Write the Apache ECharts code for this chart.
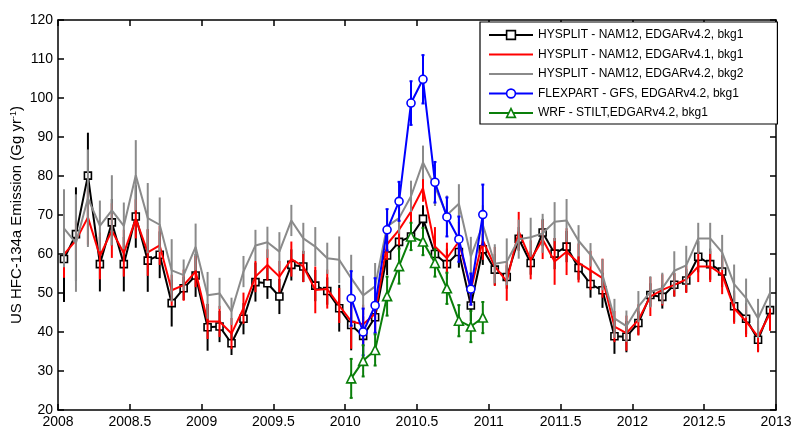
<!DOCTYPE html>
<html>
<head>
<meta charset="utf-8">
<script src="https://cdn.jsdelivr.net/npm/echarts@6/dist/echarts.min.js"></script>
<style>
html,body{margin:0;padding:0;background:#fff;}
#chart{width:791px;height:427px;}
</style>
</head>
<body>
<div id="chart"></div>
<script>
// ---- Data (monthly estimates, Gg/yr) ----
const startYear = 2008;
const flexStartMonth = 24; // January 2010
const xTickLabels = ['2008','2008.5','2009','2009.5','2010','2010.5','2011','2011.5','2012','2012.5','2013'];

const hysplitV42bkg1 = [58.7,65.1,80.1,57.4,68.1,57.4,69.6,58.3,59.8,47.4,51.2,54.5,
  41.2,41.4,37.1,43.4,52.8,52.5,49.1,57.2,56.8,51.9,50.5,46.1,
  41.8,39.0,43.8,59.6,63.1,64.5,69.0,60.0,57.4,60.5,46.8,61.2,
  56.0,54.1,63.9,57.7,65.5,60.1,61.9,56.4,52.3,50.7,38.9,38.8,
  42.3,49.5,49.0,52.1,53.2,59.3,57.4,55.5,46.6,43.4,38.0,45.6];
const hysplitV42bkg1Err = [11,12,11,7,6,7,8,8,6,6,3,5.5,
  6,4,3,4,5,4,4.5,4,4,4,3.5,6,
  6.5,5,4,5,4,3.5,3.5,4,4,4,4,4,
  4,3,3,3,3.5,4,4,3,3.5,4.5,4.5,4,
  3,3,3,3,3,4,4,4,4,4,3,4];

const hysplitV41bkg1 = [59.9,63.5,69.4,59.5,66.0,60.2,69.0,60.4,62.2,50.7,52.0,55.5,
  42.7,42.7,39.6,46.1,54.2,57.2,54.2,58.7,56.8,50.8,51.0,46.8,
  42.7,42.0,44.7,62.5,66.2,70.9,76.9,61.9,58.9,63.2,50.8,63.5,
  56.8,53.0,65.8,58.5,63.7,58.1,60.6,57.7,55.8,53.8,41.4,39.7,
  43.1,49.1,50.8,52.1,53.5,56.8,56.8,54.7,46.1,42.7,38.8,44.8];
const hysplitV41bkg1Err = [6,5,7,6,7,6,5,6,5,4,4,4,
  4.5,4,4,4,4,4,4,4.5,4,6,5,4.5,
  7,5,5,4,4,4,3.5,5,4,5,4,5,
  5,5,5,5,5,6,6,5,5,5,4,4.5,
  4,5,4,3,3.5,4,4,5,4,4,4,4.5];

const hysplitV42bkg2 = [66.6,62.8,74.3,67.2,71.2,67.2,80.2,69.2,67.5,55.8,54.6,61.8,
  49.4,49.9,45.3,55.5,62.2,63.0,60.6,68.6,64.0,61.9,58.9,58.5,
  53.8,49.4,51.7,67.1,69.2,74.8,83.5,77.3,70.0,72.9,59.4,67.5,
  57.5,58.0,63.8,64.3,65.3,68.3,68.6,63.4,59.8,54.7,43.5,41.5,
  46.5,50.3,51.2,55.7,57.1,64.0,64.0,60.4,52.3,48.7,43.5,50.0];
const hysplitV42bkg2Err = [10,12.5,12.5,6.5,9,6,9,9,7,8,4,6,
  6,4,3.5,4,4,4,5,4,4,5,4,6,
  6,5,6,4,4,4,4.3,5,5,5,5,5,
  5,6,5,5,5,5,5.5,4,3,4,5,4,
  4,4,4,5,5,4,4,4.5,5,5,5,4];

const flexpartGfs = [48.6,40.0,46.8,66.2,73.5,98.7,104.8,78.4,69.5,63.8,51.0,70.1];
const flexpartGfsErr = [7,6,7,5.3,5,5.6,6.2,5.2,5,5.8,4,7.7];

const wrfStilt = [28.1,32.6,35.4,49.2,56.9,64.5,63.2,57.7,51.2,42.9,41.4,43.7];
const wrfStiltErr = [5,4,4,5,4.5,3.5,3.5,3.5,4,4,4,4];

const names = [
  'HYSPLIT - NAM12, EDGARv4.2, bkg1',
  'HYSPLIT - NAM12, EDGARv4.1, bkg1',
  'HYSPLIT - NAM12, EDGARv4.2, bkg2',
  'FLEXPART - GFS, EDGARv4.2, bkg1',
  'WRF - STILT,EDGARv4.2, bkg1'
];

// month index -> decimal year at mid-month
function monthTime(i){ return startYear + (i + 0.5) / 12; }

function pairs(vals, offset){ return vals.map((v,i)=>[monthTime(i+offset), v]); }

function errSeries(id, vals, errs, offset, color, cap, z){
  return {
    type:'custom', name: id, z: z, silent:true,
    xAxisIndex:0, yAxisIndex:0,
    encode:{x:0, y:[1,2]},
    data: vals.map((v,i)=>[monthTime(i+offset), v-errs[i], v+errs[i]]),
    renderItem: function(params, api){
      const x = api.value(0);
      const lo = api.coord([x, api.value(1)]);
      const hi = api.coord([x, api.value(2)]);
      const st = {stroke:color, lineWidth:2};
      const ch = [{type:'line', shape:{x1:lo[0],y1:lo[1],x2:hi[0],y2:hi[1]}, style:st}];
      if(cap>0){
        ch.push({type:'line', shape:{x1:lo[0]-cap,y1:lo[1],x2:lo[0]+cap,y2:lo[1]}, style:st});
        ch.push({type:'line', shape:{x1:hi[0]-cap,y1:hi[1],x2:hi[0]+cap,y2:hi[1]}, style:st});
      }
      return {type:'group', children:ch};
    }
  };
}

function lineSeries(name, vals, offset, color, symbol, size, z){
  return {
    type:'line', name:name, z:z,
    xAxisIndex:0, yAxisIndex:0,
    data: pairs(vals, offset),
    symbol: symbol, symbolSize: size, showSymbol: symbol !== 'none',
    lineStyle:{color:color, width:2},
    itemStyle:{color:'#fff', borderColor:color, borderWidth:1.6},
    emphasis:{disabled:true}
  };
}

const colors = ['#000000','#ff0000','#8a8a8a','#0000ff','#0a7f0a'];

const chart = echarts.init(document.getElementById('chart'), null, {renderer:'canvas'});
const font = 'Liberation Sans, Arial, sans-serif';

const axisCommon = {
  axisLine:{show:true, lineStyle:{color:'#000', width:1.5}},
  axisTick:{show:true, inside:true, length:6, lineStyle:{color:'#000', width:1.5}},
  splitLine:{show:false}
};

const legendItemStyles = [
  {color:'#fff', borderColor:colors[0], borderWidth:1.6},
  {opacity:0},
  {opacity:0},
  {color:'#fff', borderColor:colors[3], borderWidth:1.6},
  {color:'#fff', borderColor:colors[4], borderWidth:1.6}
];

chart.setOption({
  animation:false,
  backgroundColor:'#fff',
  textStyle:{fontFamily:font},
  grid:{left:58, right:15, top:20, bottom:17, containLabel:false, outerBoundsMode:'none'},
  legend:{
    data: names.map((n,i)=>({name:n, itemStyle: legendItemStyles[i], lineStyle:{color:colors[i], width:2}})),
    orient:'vertical', left:480, top:22,
    itemWidth:44, itemHeight:11, itemGap:7.5,
    padding:[7,34,5,8],
    borderColor:'#000', borderWidth:1.2, backgroundColor:'#fff',
    textStyle:{fontSize:12, color:'#000', fontFamily:font},
    selectedMode:false
  },
  xAxis:[
    Object.assign({type:'value', min:2008, max:2013, interval:0.5, position:'bottom',
      axisLabel:{show:true, color:'#000', fontSize:14, margin:5, fontFamily:font,
        formatter: function(v){ const k = Math.round((v-2008)/0.5); return xTickLabels[k] !== undefined ? xTickLabels[k] : String(v); }}
    }, axisCommon),
    Object.assign({type:'value', min:2008, max:2013, interval:0.5, position:'top',
      axisLabel:{show:false}}, axisCommon)
  ],
  yAxis:[
    Object.assign({type:'value', min:20, max:120, interval:10, position:'left',
      axisLabel:{show:true, color:'#000', fontSize:14, margin:5, fontFamily:font},
      name:'{a|US HFC-134a Emission (Gg yr}{s|-1}{a|)}',
      nameLocation:'middle', nameRotate:90, nameGap:33, nameMoveOverlap:false,
      nameTextStyle:{color:'#000', rich:{
        a:{fontSize:15, color:'#000', fontFamily:font, lineHeight:16},
        s:{fontSize:9, color:'#000', fontFamily:font, verticalAlign:'top', lineHeight:16}
      }}
    }, axisCommon),
    Object.assign({type:'value', min:20, max:120, interval:10, position:'right',
      axisLabel:{show:false}}, axisCommon)
  ],
  series:[
    errSeries('e0', hysplitV42bkg1, hysplitV42bkg1Err, 0, colors[0], 0, 2),
    lineSeries(names[0], hysplitV42bkg1, 0, colors[0], 'rect', 7, 3),
    errSeries('e1', hysplitV41bkg1, hysplitV41bkg1Err, 0, colors[1], 0, 4),
    lineSeries(names[1], hysplitV41bkg1, 0, colors[1], 'none', 0, 5),
    errSeries('e2', hysplitV42bkg2, hysplitV42bkg2Err, 0, colors[2], 0, 6),
    lineSeries(names[2], hysplitV42bkg2, 0, colors[2], 'none', 0, 7),
    errSeries('e3', flexpartGfs, flexpartGfsErr, flexStartMonth, colors[3], 1.5, 8),
    lineSeries(names[3], flexpartGfs, flexStartMonth, colors[3], 'circle', 8, 9),
    errSeries('e4', wrfStilt, wrfStiltErr, flexStartMonth, colors[4], 1.5, 10),
    lineSeries(names[4], wrfStilt, flexStartMonth, colors[4], 'triangle', 9, 11)
  ]
});
</script>
</body>
</html>
